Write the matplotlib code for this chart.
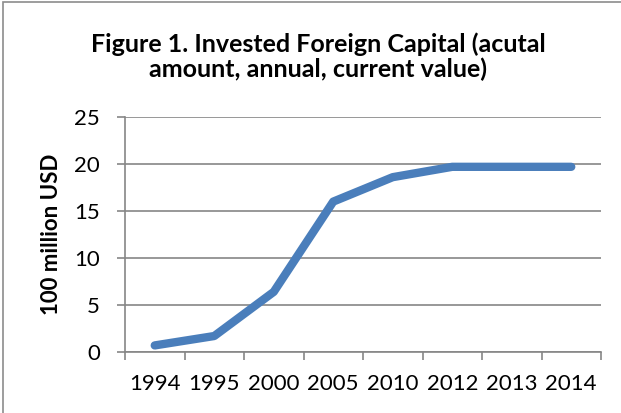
import matplotlib

matplotlib.use("Agg")
import matplotlib.pyplot as plt
from matplotlib.patches import Rectangle
import numpy as np

years = ["1994", "1995", "2000", "2005", "2010", "2012", "2013", "2014"]
capital = [0.7, 1.7, 6.4, 16.0, 18.6, 19.7, 19.7, 19.7]
y_ticks = [0, 5, 10, 15, 20, 25]

GRID = "#868686"
LINE = "#4A7EBB"

plt.rcParams["font.family"] = ["Lato", "DejaVu Sans"]

fig = plt.figure(figsize=(6.21, 4.13), dpi=100)
fig.patch.set_facecolor("white")
ax = fig.add_axes([125 / 621, 1 - 352 / 413, 476 / 621, 235 / 413])

x = np.arange(len(years))
ax.plot(x, capital, color=LINE, linewidth=6, solid_capstyle="round", solid_joinstyle="round", zorder=3)

ax.set_xlim(-0.5, len(years) - 0.5)
ax.set_ylim(0, 25)
ax.set_yticks(y_ticks)
ax.set_yticklabels([str(v) for v in y_ticks], fontsize=16)
ax.set_xticks(x)
ax.set_xticklabels(years, fontsize=16)
ax.set_xticks(np.arange(-0.5, len(years)), minor=True)
ax.tick_params(axis="x", which="major", length=0, pad=16)
ax.tick_params(axis="x", which="minor", length=6, width=1.2, color=GRID, direction="out")
ax.tick_params(axis="y", length=6, width=1.2, color=GRID, direction="out", pad=12)

ax.grid(axis="y", color=GRID, linewidth=1.2)
ax.set_axisbelow(True)
for side in ("top", "right"):
    ax.spines[side].set_visible(False)
for side in ("left", "bottom"):
    ax.spines[side].set_color(GRID)
    ax.spines[side].set_linewidth(1.2)

ax.set_ylabel("100 million USD", fontsize=16, fontweight="bold")
# label's right edge sits about 65 px from the figure's left edge
ax.yaxis.set_label_coords((62 - 125) / 476, 0.5)

fig.text(318 / 621, 1 - 57 / 413, "Figure 1. Invested Foreign Capital (acutal\namount, annual, current value)",
         ha="center", va="center", fontsize=18, fontweight="bold", linespacing=1.1)

# outer chart frame (only left and top edges fall inside the picture)
fig.patches.append(Rectangle((3 / 621, -0.1), 1.2, 1.1 - 2.5 / 413, transform=fig.transFigure,
                             fill=False, edgecolor="#8c8c8c", linewidth=1.2))

fig.savefig("out.png", dpi=100)
plt.close(fig)
